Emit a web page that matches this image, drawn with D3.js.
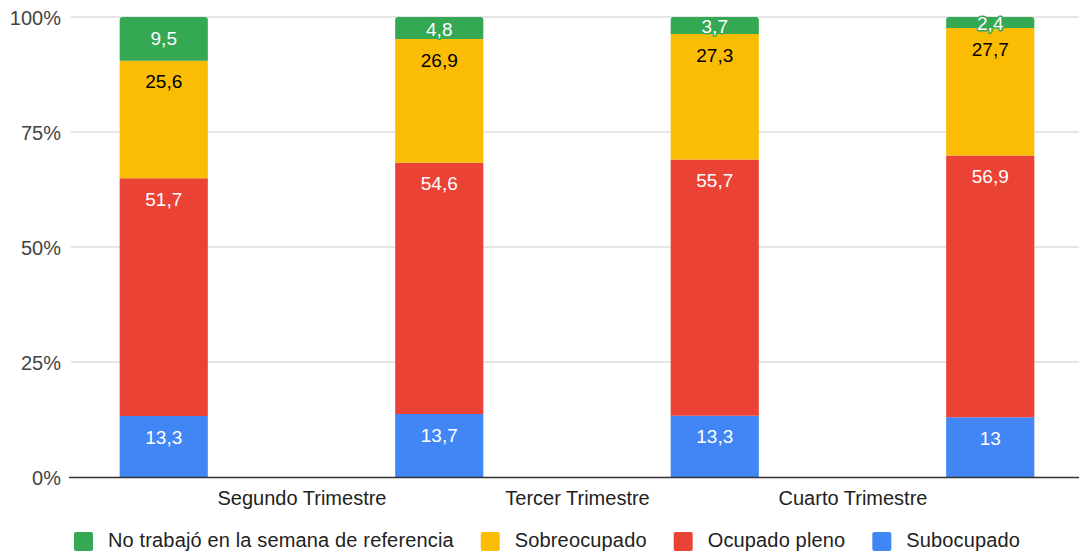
<!DOCTYPE html>
<html>
<head>
<meta charset="utf-8">
<script src="https://cdn.jsdelivr.net/npm/d3@7"></script>
<style>
  html, body { margin: 0; padding: 0; background: #fff; }
  svg { display: block; font-family: "Liberation Sans", Arial, sans-serif; }
</style>
</head>
<body>
<svg id="chart" width="1079" height="551"></svg>
<script>
// ---- Data ----
const categories = ["Primer Trimestre", "Segundo Trimestre", "Tercer Trimestre", "Cuarto Trimestre"];
const axisLabels = ["Segundo Trimestre", "Tercer Trimestre", "Cuarto Trimestre"];
const seriesNames = ["Subocupado", "Ocupado pleno", "Sobreocupado", "No trabajó en la semana de referencia"];
const subocupado = [13.3, 13.7, 13.3, 13];
const ocupadoPleno = [51.7, 54.6, 55.7, 56.9];
const sobreocupado = [25.6, 26.9, 27.3, 27.7];
const noTrabajo = [9.5, 4.8, 3.7, 2.4];
const yTicks = [0, 25, 50, 75, 100];
const legendOrder = ["No trabajó en la semana de referencia", "Sobreocupado", "Ocupado pleno", "Subocupado"];
const colors = ["#4285F4", "#EA4335", "#FBBC04", "#34A853"];
const labelColors = ["#ffffff", "#ffffff", "#000000", "#ffffff"];

const seriesValues = [subocupado, ocupadoPleno, sobreocupado, noTrabajo];
const rows = categories.map((c, i) => {
  const r = { cat: c };
  seriesNames.forEach((s, k) => r[s] = seriesValues[k][i]);
  return r;
});

const svg = d3.select("#chart");
const W = 1079, H = 551;
const plotLeft = 70, plotRight = 1079, yTop = 17, yBottom = 477;

const x = d3.scaleBand().domain(categories).range([26, 1128]).paddingInner(0.68).paddingOuter(0.34);
const y = d3.scaleLinear().domain([0, 100]).range([yBottom, yTop]);
const color = d3.scaleOrdinal().domain(seriesNames).range(colors);
const labelColor = d3.scaleOrdinal().domain(seriesNames).range(labelColors);

const stack = d3.stack().keys(seriesNames).offset(d3.stackOffsetExpand);
const stacked = stack(rows);

// gridlines
const grid = svg.append("g");
grid.selectAll("line").data(yTicks.filter(t => t > 0)).join("line")
  .attr("x1", plotLeft + 1).attr("x2", plotRight)
  .attr("y1", d => y(d)).attr("y2", d => y(d))
  .attr("stroke", "#cccccc").attr("stroke-width", 1);

// y axis labels
const yAxis = d3.axisLeft(y).tickValues(yTicks).tickFormat(d => d + "%").tickSize(0).tickPadding(0);
const ya = svg.append("g").attr("transform", `translate(61,0)`).call(yAxis);
ya.select(".domain").remove();
ya.selectAll("text").attr("font-size", 20).attr("fill", "#444").attr("dy", "0.35em")
  .attr("font-family", "'Liberation Sans', Arial, sans-serif");

// bars
const clip = svg.append("defs").append("clipPath").attr("id", "plotclip")
  .append("rect").attr("x", plotLeft).attr("y", 0).attr("width", plotRight - plotLeft).attr("height", H);

const barsG = svg.append("g").attr("clip-path", "url(#plotclip)");
const lastKey = seriesNames[seriesNames.length - 1];
stacked.forEach(layer => {
  barsG.append("g").selectAll("path").data(layer).join("path")
    .attr("fill", color(layer.key))
    .attr("d", d => {
      const x0 = x(d.data.cat), w = x.bandwidth();
      const top = y(d[1] * 100), bot = y(d[0] * 100);
      const r = layer.key === lastKey ? Math.min(3, (bot - top) / 2) : 0;
      return `M${x0},${bot} L${x0},${top + r} Q${x0},${top} ${x0 + r},${top} L${x0 + w - r},${top} Q${x0 + w},${top} ${x0 + w},${top + r} L${x0 + w},${bot} Z`;
    });
});

// data labels
stacked.forEach(layer => {
  barsG.append("g").selectAll("text").data(layer).join("text")
    .attr("x", d => x(d.data.cat) + x.bandwidth() / 2)
    .attr("y", d => {
      const top = y(d[1] * 100), bot = y(d[0] * 100);
      return Math.min(top + 21, (top + bot) / 2 + 1);
    })
    .attr("dy", "0.35em")
    .attr("text-anchor", "middle")
    .attr("font-size", 19)
    .attr("fill", labelColor(layer.key))
    .attr("stroke", color(layer.key))
    .attr("stroke-width", 3)
    .attr("paint-order", "stroke")
    .attr("stroke-linejoin", "round")
    .text(d => String(d.data[layer.key]).replace(".", ","));
});

// baseline
svg.append("line").attr("x1", plotLeft - 1).attr("x2", plotRight)
  .attr("y1", yBottom + 0.5).attr("y2", yBottom + 0.5)
  .attr("stroke", "#333").attr("stroke-width", 1.5);

// x axis labels (between bars)
const mids = axisLabels.map((l, i) => (x(categories[i]) + x(categories[i + 1])) / 2 + x.bandwidth() / 2);
const xl = d3.scaleOrdinal().domain(axisLabels).range(mids);
const xAxis = d3.axisBottom(xl).tickSize(0).tickPadding(0);
const xa = svg.append("g").attr("transform", `translate(0,${yBottom})`).call(xAxis);
xa.select(".domain").remove();
xa.selectAll("text").attr("font-size", 20).attr("fill", "#222").attr("dy", null).attr("y", 21)
  .attr("dominant-baseline", "central")
  .attr("font-family", "'Liberation Sans', Arial, sans-serif");

// legend
const legend = svg.append("g");
let lx = 74;
legendOrder.forEach(name => {
  const g = legend.append("g");
  g.append("rect").attr("x", lx).attr("y", 532).attr("width", 19).attr("height", 19)
    .attr("rx", 2).attr("fill", color(name));
  const t = g.append("text").attr("x", lx + 34).attr("y", 540).attr("dy", "0.35em")
    .attr("font-size", 20).attr("letter-spacing", "0.15px").attr("fill", "#222").text(name);
  lx = lx + 34 + t.node().getComputedTextLength() + 27;
});
</script>
</body>
</html>
